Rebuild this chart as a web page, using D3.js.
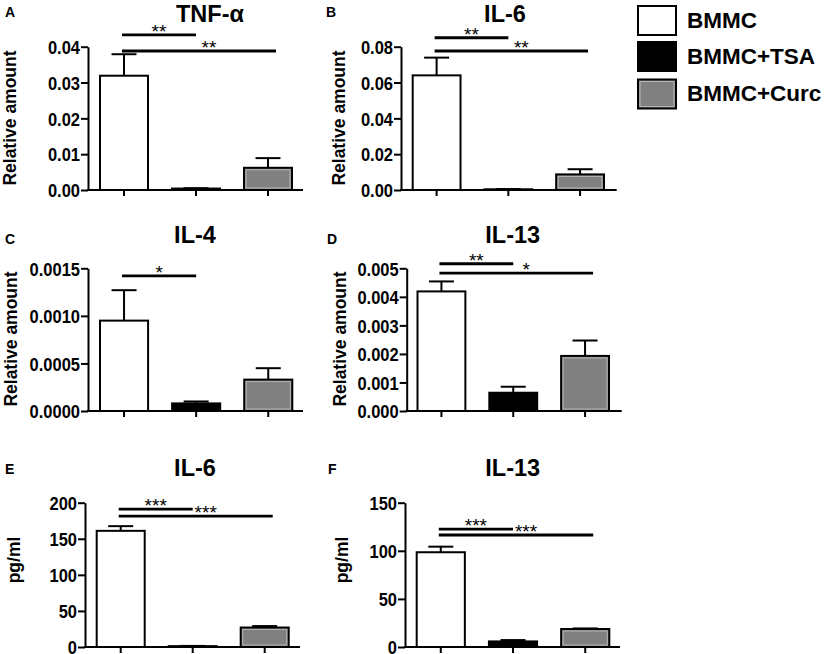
<!DOCTYPE html>
<html><head><meta charset="utf-8">
<script src="https://cdn.jsdelivr.net/npm/d3@7"></script>
<style>body{margin:0;background:#fff} svg text{font-family:"Liberation Sans",Arial,sans-serif}</style>
</head><body><svg id="c" width="829" height="654"></svg>
<script>
// ---------- data ----------
const categories = ["BMMC", "BMMC+TSA", "BMMC+Curc"];
const panelLetters = ["A", "B", "C", "D", "E", "F"];
const titles = ["TNF-α", "IL-6", "IL-4", "IL-13", "IL-6", "IL-13"];
const yLabels = ["Relative amount", "Relative amount", "Relative amount", "Relative amount", "pg/ml", "pg/ml"];
const yMax = [0.04, 0.08, 0.0015, 0.005, 200, 150];
const yStep = [0.01, 0.02, 0.0005, 0.001, 50, 50];
const yFormats = [".2f", ".2f", ".4f", ".3f", "d", "d"];

const tnfMean = [0.0319, 0.0004, 0.0062],  tnfSem = [0.0060, 0.0001, 0.0027];
const il6Mean = [0.0640, 0.0004, 0.0087],  il6Sem = [0.0099, 0.0001, 0.0029];
const il4Mean = [0.00095, 0.00008, 0.00033], il4Sem = [0.00032, 0.00002, 0.00012];
const il13Mean = [0.00419, 0.00064, 0.00193], il13Sem = [0.00035, 0.00021, 0.00054];
const il6ElisaMean = [161, 1.2, 27],  il6ElisaSem = [6.5, 0.3, 2];
const il13ElisaMean = [98.5, 5.8, 18.7], il13ElisaSem = [5.8, 1.4, 0.6];

const means = [tnfMean, il6Mean, il4Mean, il13Mean, il6ElisaMean, il13ElisaMean];
const sems  = [tnfSem, il6Sem, il4Sem, il13Sem, il6ElisaSem, il13ElisaSem];

// significance brackets: panel, from, to, label, level (data units)
const sigPanel = [0, 0, 1, 1, 2, 3, 3, 4, 4, 5, 5];
const sigFrom  = [0, 0, 0, 0, 0, 0, 0, 0, 0, 0, 0];
const sigTo    = [1, 2, 1, 2, 1, 1, 2, 1, 2, 1, 2];
const sigLabel = ["**", "**", "**", "**", "*", "**", "*", "***", "***", "***", "***"];
const sigLevel = [0.0433, 0.0388, 0.0850, 0.0776, 0.00142, 0.00516, 0.00483, 191, 181.5, 122.6, 116.4];

const fills = ["#ffffff", "#000000", "#808080"];

// ---------- layout ----------
const layout = [
  {ax: 88,  right: 303,   top: 46.7,  bottom: 190, band: [100, 292],     title: [210, 22],   letter: [5, 17],   ylab: [16, 118]},
  {ax: 401, right: 616.7, top: 46.7,  bottom: 190, band: [412.7, 604],   title: [505, 22],   letter: [326, 17], ylab: [345, 118]},
  {ax: 88,  right: 303,   top: 268.3, bottom: 411, band: [100, 292.3],   title: [195, 243],  letter: [5, 244],  ylab: [17, 339]},
  {ax: 406.7, right: 621.7, top: 268.3, bottom: 411, band: [417.5, 609], title: [512.7, 243], letter: [327, 244], ylab: [346, 339]},
  {ax: 85,  right: 300,   top: 502.7, bottom: 647, band: [96.7, 288.7],  title: [195, 476],  letter: [5, 474],  ylab: [20, 560]},
  {ax: 405, right: 620,   top: 502.7, bottom: 647, band: [416.7, 609.3], title: [512.7, 476], letter: [328, 474], ylab: [348, 560]}
];

const svg = d3.select("#c");
const FONT = '"Liberation Sans", Arial, sans-serif';

layout.forEach((L, i) => {
  const g = svg.append("g");
  const y = d3.scaleLinear().domain([0, yMax[i]]).range([L.bottom, L.top]);
  const x = d3.scaleBand().domain(categories).range(L.band).paddingInner(1 / 3).paddingOuter(0);
  const bw = x.bandwidth();
  const cx = c => x(c) + bw / 2;

  // bars with upper error bars
  categories.forEach((c, k) => {
    const v = means[i][k], s = sems[i][k];
    g.append("line").attr("x1", cx(c)).attr("x2", cx(c))
      .attr("y1", y(v)).attr("y2", y(v + s)).attr("stroke", "#000").attr("stroke-width", 2);
    g.append("line").attr("x1", cx(c) - 12.5).attr("x2", cx(c) + 12.5)
      .attr("y1", y(v + s)).attr("y2", y(v + s)).attr("stroke", "#000").attr("stroke-width", 2);
    g.append("rect").attr("x", x(c)).attr("y", y(v)).attr("width", bw)
      .attr("height", y(0) - y(v)).attr("fill", fills[k])
      .attr("stroke", "#000").attr("stroke-width", 2);
    if (k === 2 && y(0) - y(v) > 5) {
      g.append("rect").attr("x", x(c) + 2).attr("y", y(v) + 2).attr("width", bw - 4)
        .attr("height", y(0) - y(v) - 4).attr("fill", "none")
        .attr("stroke", "#b5b5b5").attr("stroke-width", 1);
    }
  });

  // y axis
  const ticks = d3.range(0, yMax[i] + yStep[i] / 2, yStep[i]);
  const ya = g.append("g").attr("transform", `translate(${L.ax},0)`)
    .call(d3.axisLeft(y).tickValues(ticks).tickFormat(d3.format(yFormats[i]))
      .tickSize(7).tickSizeOuter(0).tickPadding(1));
  ya.select(".domain").attr("stroke-width", 2);
  ya.selectAll(".tick line").attr("stroke-width", 2);
  ya.selectAll(".tick text").each(function () {
    const t = d3.select(this);
    const tx = +t.attr("x");
    t.attr("x", null).attr("dy", null).attr("y", null)
      .attr("transform", `translate(${tx},0) scale(1,1.13)`)
      .attr("dy", "0.36em");
  }).attr("font-family", FONT).attr("font-size", 16.5)
    .attr("font-weight", "bold").attr("fill", "#000");

  // x axis
  const xa = g.append("g").attr("transform", `translate(0,${L.bottom})`)
    .call(d3.axisBottom(x).tickSize(6).tickSizeOuter(0).tickFormat(""));
  xa.select(".domain").remove();
  xa.selectAll(".tick line").attr("stroke-width", 2);
  g.append("line").attr("x1", L.ax - 1).attr("x2", L.right).attr("y1", L.bottom).attr("y2", L.bottom)
    .attr("stroke", "#000").attr("stroke-width", 2);

  // title, letter, y label
  g.append("text").attr("x", L.title[0]).attr("y", L.title[1])
    .attr("text-anchor", "middle")
    .attr("font-size", 23.5).attr("font-weight", "bold").text(titles[i]);
  g.append("text").attr("x", L.letter[0]).attr("y", L.letter[1])
    .attr("font-size", 14).attr("font-weight", "bold").text(panelLetters[i]);
  g.append("text").attr("transform", `translate(${L.ylab[0]},${L.ylab[1]}) rotate(-90)`)
    .attr("text-anchor", "middle").attr("font-size", 17.5).attr("font-weight", "bold").text(yLabels[i]);

  // significance brackets
  sigPanel.forEach((p, j) => {
    if (p !== i) return;
    const a = categories[sigFrom[j]], b = categories[sigTo[j]];
    const long = sigTo[j] - sigFrom[j] > 1;
    const x1 = cx(a) - 2, x2 = cx(b) + (long ? 8 : 0);
    const ly = y(sigLevel[j]);
    g.append("line").attr("x1", x1).attr("x2", x2).attr("y1", ly).attr("y2", ly)
      .attr("stroke", "#000").attr("stroke-width", 2.8);
    const lx = long ? cx(categories[1]) + 13 : (x1 + x2) / 2;
    g.append("text").attr("x", lx).attr("y", ly + 3).attr("text-anchor", "middle")
      .attr("font-size", 19).text(sigLabel[j]);
  });
});

// legend
const legend = svg.append("g");
const legY = [6, 42, 79.5];
categories.forEach((c, k) => {
  legend.append("rect").attr("x", 638).attr("y", legY[k]).attr("width", 38).attr("height", 29)
    .attr("fill", fills[k]).attr("stroke", "#000").attr("stroke-width", 2);
  if (k === 2) {
    legend.append("rect").attr("x", 640).attr("y", legY[k] + 2).attr("width", 34).attr("height", 25)
      .attr("fill", "none").attr("stroke", "#b5b5b5").attr("stroke-width", 1);
  }
  legend.append("text").attr("x", 687).attr("y", legY[k] + 21.5)
    .attr("font-size", 22.5).attr("font-weight", "bold").text(c);
});
</script></body></html>
